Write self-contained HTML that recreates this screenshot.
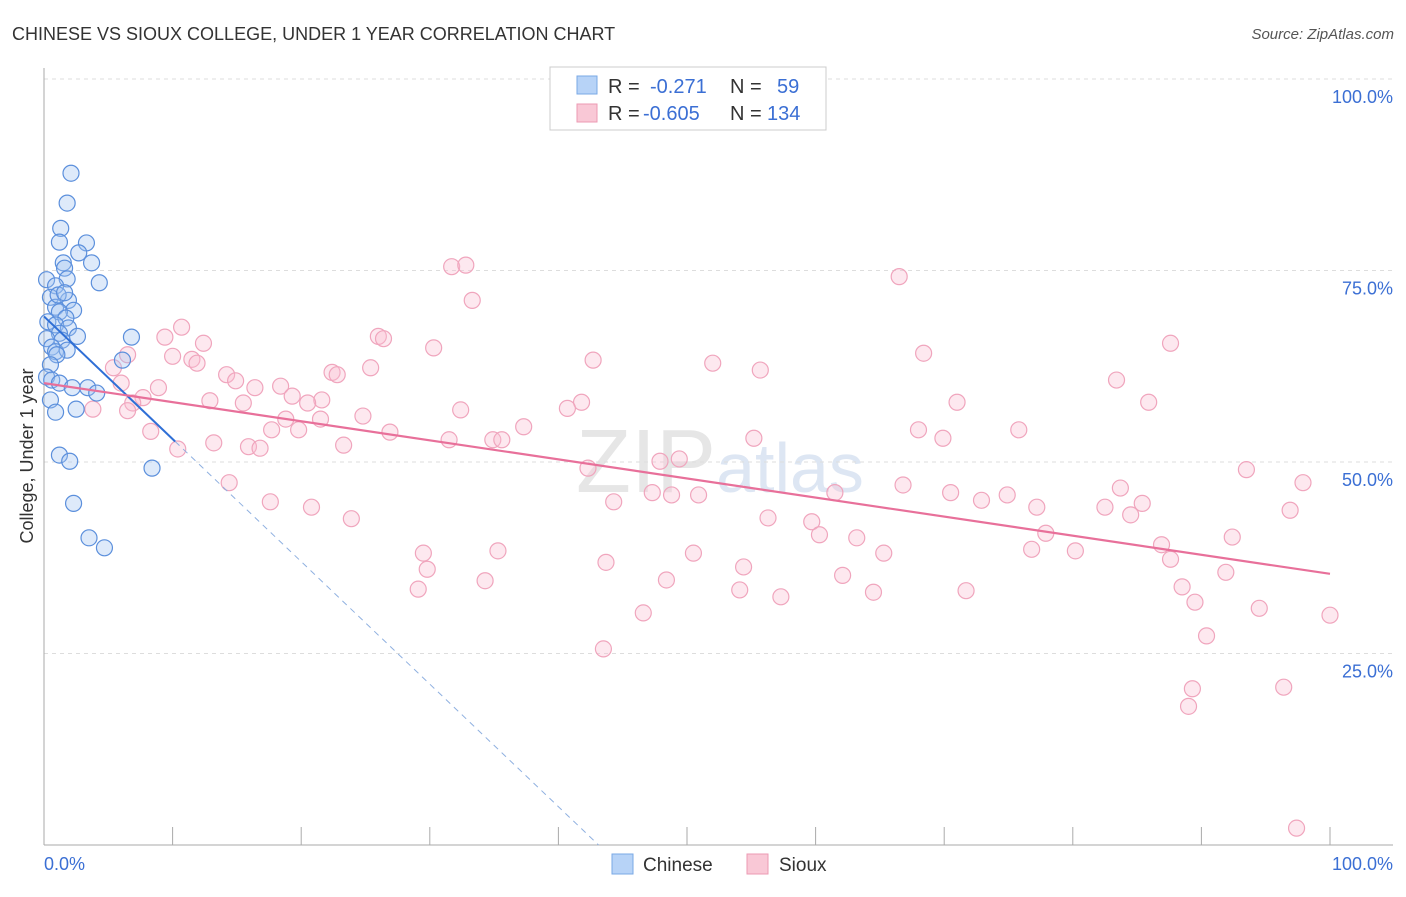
<!DOCTYPE html>
<html><head><meta charset="utf-8">
<style>
body{margin:0;background:#fff;font-family:"Liberation Sans",sans-serif;}
svg text{font-family:"Liberation Sans",sans-serif;}
</style></head>
<body>
<svg id="chart" width="1406" height="892">
<text x="12" y="40" font-size="18" fill="#333">CHINESE VS SIOUX COLLEGE, UNDER 1 YEAR CORRELATION CHART</text>
<text x="1394" y="39" font-size="15" fill="#555" text-anchor="end" font-style="italic">Source: ZipAtlas.com</text>
<text x="33" y="456" font-size="18" fill="#333" text-anchor="middle" transform="rotate(-90 33 456)">College, Under 1 year</text>
<text x="720" y="492" font-size="90" fill="#e6e6e6" text-anchor="middle" font-family="Liberation Serif">ZIP<tspan fill="#dde6f3" font-family="Liberation Sans" font-size="70">atlas</tspan></text>
<g id="grid"></g><g id="marks"></g>
<g>
<rect x="550" y="67" width="276" height="63" fill="#fff" stroke="#ccc"/>
<rect x="577" y="76" width="20" height="18" fill="#b7d3f7" stroke="#7aa8e6"/>
<rect x="577" y="104" width="20" height="18" fill="#f9c8d6" stroke="#ec9ab3"/>
<text x="608" y="93" font-size="20" fill="#333">R = <tspan fill="#3b6fd4" x="650">-0.271</tspan><tspan x="730" fill="#333">N =</tspan><tspan x="777" fill="#3b6fd4">59</tspan></text>
<text x="608" y="120" font-size="20" fill="#333">R = <tspan fill="#3b6fd4" x="643">-0.605</tspan><tspan x="730" fill="#333">N =</tspan><tspan x="767" fill="#3b6fd4">134</tspan></text>
</g>
<g>
<rect x="612" y="854" width="21" height="20" fill="#b7d3f7" stroke="#7aa8e6"/>
<text x="643" y="871" font-size="19" fill="#333">Chinese</text>
<rect x="747" y="854" width="21" height="20" fill="#f9c8d6" stroke="#ec9ab3"/>
<text x="779" y="871" font-size="19" fill="#333">Sioux</text>
</g>
</svg>
<script>
const yTicks=[25,50,75,100];
const yTickLabels=["25.0%","50.0%","75.0%","100.0%"];
const chineseX=[2.1,1.8,1.3,1.2,3.3,2.7,1.5,3.7,1.6,0.2,1.8,0.9,4.3,0.5,1.9,0.9,2.3,1.2,0.3,1.7,0.9,1.9,1.2,2.6,6.8,0.2,1.4,0.6,0.9,1.8,1.0,6.1,0.5,0.2,0.6,1.2,2.2,3.4,4.1,0.5,0.9,2.5,8.4,1.2,2.0,2.3,3.5,4.7,1.1,1.6];
const chineseY=[87.7,83.8,80.5,78.7,78.6,77.3,76.0,76.0,75.3,73.8,73.9,73.0,73.4,71.5,71.1,70.2,69.8,69.6,68.3,68.8,67.9,67.5,66.8,66.4,66.3,66.1,65.9,65.0,64.4,64.6,64.0,63.3,62.7,61.1,60.7,60.3,59.7,59.7,59.0,58.1,56.5,56.9,49.2,50.9,50.1,44.6,40.1,38.8,71.8,72.1];
const siouxX=[31.7,32.8,66.5,33.3,10.7,26.0,26.4,9.4,12.4,30.3,68.4,87.6,10.0,11.5,11.9,42.7,52.0,25.4,22.4,22.8,55.7,6.5,5.4,6.0,14.2,14.9,16.4,18.4,8.9,19.3,21.6,12.9,15.5,7.7,6.9,20.5,83.4,85.9,71.0,41.8,40.7,32.4,24.8,6.5,3.8,21.5,18.8,17.7,19.8,26.9,8.3,23.3,13.2,15.9,16.8,31.5,34.9,35.6,37.3,55.2,68.0,69.9,75.8,10.4,14.4,17.6,20.8,23.9,42.3,47.9,49.4,44.3,47.3,48.8,50.9,56.3,59.7,61.5,60.3,63.2,66.8,70.5,72.9,74.9,77.2,77.9,82.5,83.7,84.5,85.4,93.5,97.9,96.9,92.4,76.8,80.2,86.9,87.6,88.5,89.5,91.9,94.5,100.0,90.4,89.3,89.0,96.4,97.4,29.5,29.8,29.1,34.3,35.3,43.7,46.6,43.5,48.4,50.5,54.4,54.1,57.3,62.1,64.5,65.3,71.7];
const siouxY=[75.5,75.7,74.2,71.1,67.6,66.4,66.1,66.3,65.5,64.9,64.2,65.5,63.8,63.4,62.9,63.3,62.9,62.3,61.7,61.4,62.0,64.0,62.3,60.3,61.4,60.6,59.7,59.9,59.7,58.6,58.1,58.0,57.7,58.4,57.7,57.7,60.7,57.8,57.8,57.8,57.0,56.8,56.0,56.7,56.9,55.6,55.6,54.2,54.2,53.9,54.0,52.2,52.5,52.0,51.8,52.9,52.9,52.9,54.6,53.1,54.2,53.1,54.2,51.7,47.3,44.8,44.1,42.6,49.2,50.1,50.4,44.8,46.0,45.7,45.7,42.7,42.2,46.0,40.5,40.1,47.0,46.0,45.0,45.7,44.1,40.7,44.1,46.6,43.1,44.6,49.0,47.3,43.7,40.2,38.6,38.4,39.2,37.3,33.7,31.7,35.6,30.9,30.0,27.3,20.4,18.1,20.6,2.2,38.1,36.0,33.4,34.5,38.4,36.9,30.3,25.6,34.6,38.1,36.3,33.3,32.4,35.2,33.0,38.1,33.2];
const chineseTrend=[69.0,-1.6];
const siouxTrend=[60.3,-0.249];

const NS="http://www.w3.org/2000/svg";
const X0=44,X1=1330,Y0=845,Y100=79;
const sx=v=>X0+(X1-X0)*v/100;
const sy=v=>Y0-(Y0-Y100)*v/100;
function mk(tag,attrs,parent){const e=document.createElementNS(NS,tag);for(const k in attrs)e.setAttribute(k,attrs[k]);parent.appendChild(e);return e;}
const grid=document.getElementById('grid'),marks=document.getElementById('marks');
yTicks.forEach((t,i)=>{
  const l=mk('line',{x1:X0,x2:1393,y1:sy(t),y2:sy(t),stroke:'#ddd','stroke-dasharray':'4,4'},grid);
  
  
  const tx=mk('text',{x:1393,y:sy(t)+24,'font-size':18,fill:'#3b6fd4','text-anchor':'end'},grid);
  tx.textContent=yTickLabels[i];
  
  
});
const ax=mk('line',{x1:X0,x2:X0,y1:68,y2:Y0,stroke:'#aaa'},grid);


const bx=mk('line',{x1:X0,x2:1393,y1:Y0,y2:Y0,stroke:'#aaa'},grid);


for(let i=1;i<=10;i++){
  const t=mk('line',{x1:sx(i*10),x2:sx(i*10),y1:Y0,y2:Y0-18,stroke:'#aaa'},grid);
  
  
}
const xl=mk('text',{x:44,y:870,'font-size':18,fill:'#3b6fd4'},grid);xl.textContent='0.0%';


const xr=mk('text',{x:1393,y:870,'font-size':18,fill:'#3b6fd4','text-anchor':'end'},grid);xr.textContent='100.0%';


siouxX.forEach((v,i)=>{
  const c=mk('circle',{cx:sx(v),cy:sy(siouxY[i]),r:8,fill:'rgba(248,190,208,0.35)',stroke:'#f0a5bd','stroke-width':1.2},marks);
  
  
});
chineseX.forEach((v,i)=>{
  const c=mk('circle',{cx:sx(v),cy:sy(chineseY[i]),r:8,fill:'rgba(160,195,240,0.35)',stroke:'#5b8fdc','stroke-width':1.2},marks);
  
  
});
const zeroX=-chineseTrend[0]/chineseTrend[1];
const cd=mk('line',{x1:sx(10.2),y1:sy(chineseTrend[0]+chineseTrend[1]*10.2),x2:sx(zeroX),y2:sy(0),stroke:'#8fb0e0','stroke-dasharray':'6,5','stroke-width':1},marks);


const cl=mk('line',{x1:sx(0),y1:sy(chineseTrend[0]),x2:sx(10.2),y2:sy(chineseTrend[0]+chineseTrend[1]*10.2),stroke:'#2f6fd6','stroke-width':2},marks);


const sl=mk('line',{x1:sx(0),y1:sy(siouxTrend[0]),x2:sx(100),y2:sy(siouxTrend[0]+siouxTrend[1]*100),stroke:'#e8709a','stroke-width':2.2},marks);


</script>
</body></html>
